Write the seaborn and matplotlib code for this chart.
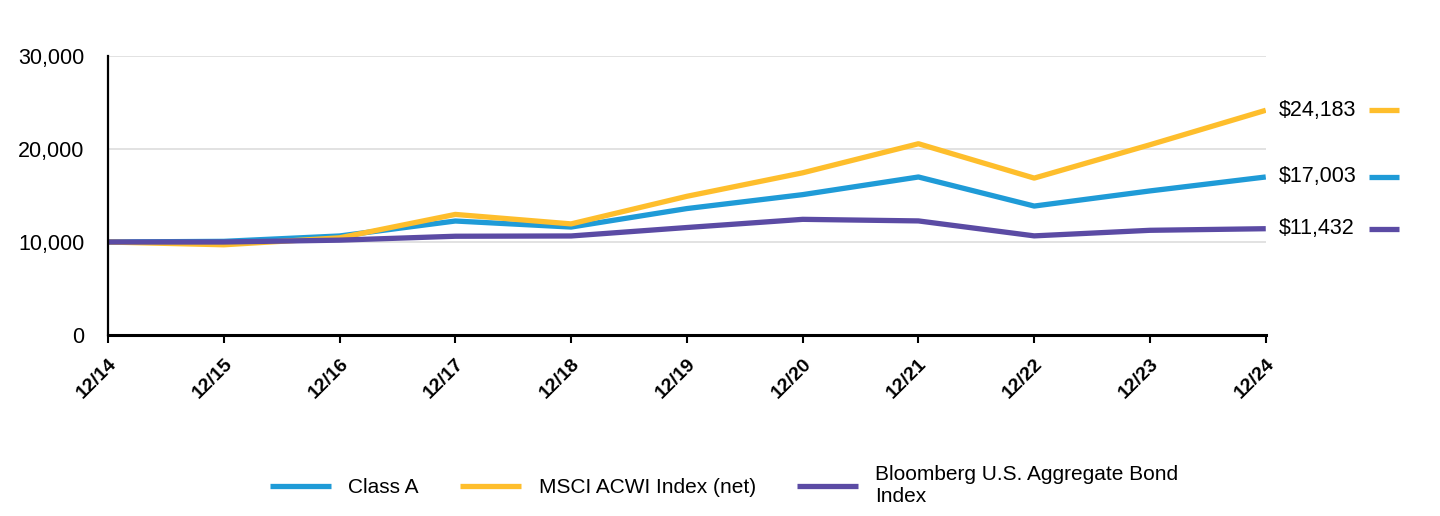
import matplotlib
matplotlib.use("Agg")
import matplotlib.pyplot as plt
import matplotlib.transforms as mtransforms
import seaborn as sns
import pandas as pd

# ---- data ----
periods = ["12/14", "12/15", "12/16", "12/17", "12/18", "12/19",
           "12/20", "12/21", "12/22", "12/23", "12/24"]
class_a = [10000, 10070, 10650, 12260, 11610, 13600, 15100, 17000, 13870, 15500, 17003]
msci_acwi = [10000, 9700, 10450, 12970, 11950, 14920, 17450, 20580, 16880, 20470, 24183]
bloomberg = [10000, 10000, 10200, 10620, 10650, 11560, 12440, 12270, 10660, 11260, 11432]
series_names = ["Class A", "MSCI ACWI Index (net)", "Bloomberg U.S. Aggregate Bond\nIndex"]
end_labels = ["$17,003", "$24,183", "$11,432"]
y_ticks = [0, 10000, 20000, 30000]

colors = ["#1F9BD7", "#FEBE2C", "#5B4BA4"]

sns.set_theme(style="white")
plt.rcParams["font.family"] = ["Liberation Sans", "DejaVu Sans"]
plt.rcParams["text.color"] = "black"
plt.rcParams["xtick.color"] = "black"
plt.rcParams["ytick.color"] = "black"

rows = []
for name, vals in zip(series_names, [class_a, msci_acwi, bloomberg]):
    for i, (p, v) in enumerate(zip(periods, vals)):
        rows.append({"idx": i, "period": p, "value": v, "series": name})
df = pd.DataFrame(rows)

fig = plt.figure(figsize=(14.4, 5.16), dpi=100)
ax = fig.add_axes([0.075, 0.351, 0.804, 0.540])

sns.lineplot(data=df, x="idx", y="value", hue="series", hue_order=series_names,
             palette=colors, linewidth=3.8, ax=ax, legend=True,
             solid_capstyle="butt")

ax.set_xlim(0, len(periods) - 1)
ax.set_ylim(0, 30000)
ax.set_yticks(y_ticks)
ax.set_yticklabels([f"{t:,}" for t in y_ticks], fontsize=15.5, color="black")
ax.set_xticks(range(len(periods)))
ax.set_xticklabels(periods, rotation=45, ha="right", va="top",
                   rotation_mode="anchor", fontsize=14, fontweight="bold",
                   color="black")
ax.tick_params(axis="x", which="major", length=6, width=1.5, color="black",
               bottom=True, pad=9)
ax.tick_params(axis="y", which="major", length=0, pad=17)
ax.set_xlabel("")
ax.set_ylabel("")

ax.grid(axis="y", color="#DDDDDD", linewidth=1.2)
ax.set_axisbelow(True)
for s in ["top", "right"]:
    ax.spines[s].set_visible(False)
ax.spines["left"].set_color("black")
ax.spines["left"].set_linewidth(1.6)
ax.spines["bottom"].set_color("black")
ax.spines["bottom"].set_linewidth(2.2)

# end labels
trans = mtransforms.blended_transform_factory(ax.transAxes, ax.transData)
for vals, lab, col in zip([class_a, msci_acwi, bloomberg], end_labels, colors):
    last = vals[-1]
    ax.text(1.011, last, lab, transform=trans, fontsize=15.5, va="center",
            ha="left", color="black")
    ax.plot([1.0895, 1.1155], [last, last], transform=trans, color=col,
            linewidth=3.8, clip_on=False, solid_capstyle="butt")

# legend
handles, labels = ax.get_legend_handles_labels()
ax.legend_.remove()
leg = fig.legend(handles, labels, loc="upper center", bbox_to_anchor=(0.503, 0.135),
                 ncol=3, frameon=False, fontsize=15, handlelength=2.9,
                 handletextpad=0.85, columnspacing=2.0, labelspacing=0.2)
for h in leg.legend_handles:
    h.set_linewidth(3.8)

fig.savefig("out.png", dpi=100)
